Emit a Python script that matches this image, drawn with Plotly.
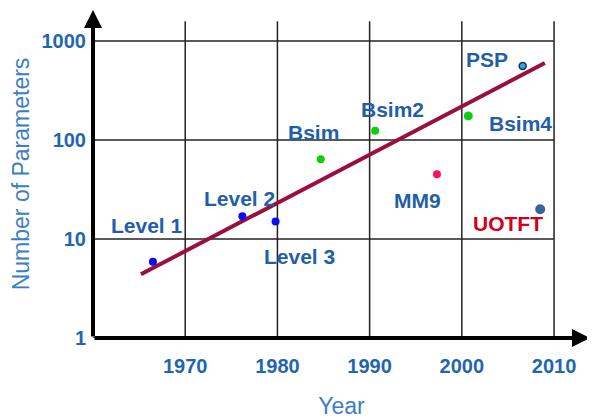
import math
import plotly.graph_objects as go

# ---- data ----
models = ["Level 1", "Level 2", "Level 3", "Bsim", "Bsim2", "MM9", "Bsim4", "PSP", "UOTFT"]
years = [1966.5, 1976.2, 1979.8, 1984.7, 1990.6, 1997.3, 2000.7, 2006.6, 2008.5]
params = [5.9, 17, 15, 64, 124, 45, 175, 560, 20]
trend_years = [1965.2, 2009.0]
trend_params = [4.4, 600]
x_tick_vals = [1970, 1980, 1990, 2000, 2010]
x_tick_text = ["1970", "1980", "1990", "2000", "2010"]
y_tick_vals = [1, 10, 100, 1000]
y_tick_text = ["1", "10", "100", "1000"]

# ---- styles ----
point_colors = ["#0A0AF5", "#0A0AF5", "#0A0AF5", "#0CD00C", "#0CD00C", "#FF1062", "#0CD00C", "#2AA8E8", "#3A6499"]
point_sizes = [8, 8, 8, 8, 8, 8, 9, 7, 10]
point_lines = [0, 0, 0, 0, 0, 0, 0, 1.5, 0]
label_colors = ["#1F5FA8"] * 8 + ["#D00018"]
label_offsets = [(-6, 36), (-3, 18), (24, -35), (-7, 27), (17, 21), (-19, -26), (52, -8), (-36, 6), (-32, -14)]

X0, X1 = 1960, 2013.9
Y0, Y1 = 0, 3.313
label_blue = "#1F66B2"
FONT = "Liberation Sans, Arial"

fig = go.Figure()

# trend line
fig.add_trace(go.Scatter(x=trend_years, y=trend_params, mode="lines",
                         line=dict(color="#9B0F3F", width=4), hoverinfo="skip"))
# points
fig.add_trace(go.Scatter(x=years, y=params, mode="markers",
                         marker=dict(color=point_colors, size=point_sizes, opacity=1,
                                     line=dict(color="#1A3050", width=point_lines)),
                         text=models))

# grid lines (box ends at 2010)
shapes = []
for v in y_tick_vals:
    shapes.append(dict(type="line", xref="x", yref="y", x0=X0, x1=2010,
                       y0=v, y1=v, line=dict(color="#222222", width=1.5), layer="below"))
for v in x_tick_vals:
    shapes.append(dict(type="line", xref="x", yref="y", x0=v, x1=v,
                       y0=1, y1=10 ** 3.2, line=dict(color="#222222", width=1.5), layer="below"))

annotations = []
# axis arrows
annotations.append(dict(x=X0, y=Y1, ax=X0, ay=0, xref="x", yref="y", axref="x", ayref="y",
                        showarrow=True, arrowhead=2, arrowsize=0.9, arrowwidth=4,
                        arrowcolor="black", text=""))
annotations.append(dict(x=X1, y=0, ax=X0, ay=0, xref="x", yref="y", axref="x", ayref="y",
                        showarrow=True, arrowhead=2, arrowsize=0.9, arrowwidth=4,
                        arrowcolor="black", text=""))
# point labels
for m, xv, yv, c, (dx, dy) in zip(models, years, params, label_colors, label_offsets):
    annotations.append(dict(x=xv, y=math.log10(yv), xref="x", yref="y", text="<b>%s</b>" % m,
                            showarrow=False, xshift=dx, yshift=dy,
                            font=dict(family=FONT, size=21, color=c)))

fig.update_layout(
    width=587, height=412,
    margin=dict(l=85, r=5, t=2, b=82),
    paper_bgcolor="white", plot_bgcolor="white",
    showlegend=False,
    shapes=shapes, annotations=annotations,
    font=dict(family=FONT),
    xaxis=dict(range=[X0, X1], showgrid=False, zeroline=False, showline=False,
               automargin=False,
               tickmode="array", tickvals=x_tick_vals,
               ticktext=["<b>%s</b>" % t for t in x_tick_text],
               ticks="", ticklabelstandoff=14,
               tickfont=dict(size=20, color=label_blue),
               title=dict(text="Year", font=dict(size=23, color="#3C7EC6"), standoff=21)),
    yaxis=dict(type="log", range=[Y0, Y1], showgrid=False, zeroline=False, showline=False,
               automargin=False,
               tickmode="array", tickvals=y_tick_vals,
               ticktext=["<b>%s</b>" % t for t in y_tick_text],
               ticks="", ticklabelstandoff=6,
               tickfont=dict(size=20, color=label_blue),
               title=dict(text="Number of Parameters", font=dict(size=23, color="#3C7EC6"), standoff=6)),
)

fig.write_html("out.html")
